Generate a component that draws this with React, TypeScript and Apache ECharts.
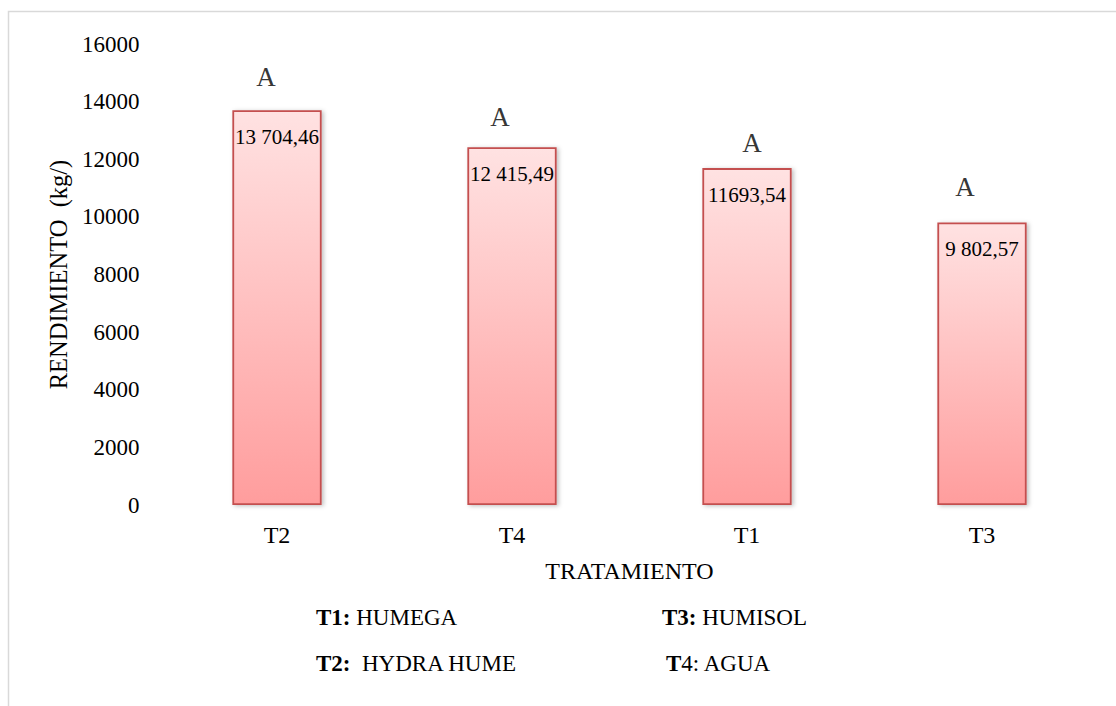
import React, { useEffect, useRef } from "react";
import * as echarts from "echarts";

const categories = ["T2", "T4", "T1", "T3"];
const values = [13704.46, 12415.49, 11693.54, 9802.57];
const valueLabels = ["13 704,46", "12 415,49", "11693,54", "9 802,57"];
const letters = ["A", "A", "A", "A"];
const letterOffsets = [[-11, -33], [-12, -30], [5, -25], [-17, -36]];
const yTicks = [0, 2000, 4000, 6000, 8000, 10000, 12000, 14000, 16000];
const legendRow1 = [
  { bold: "T1:", rest: " HUMEGA" },
  { bold: "T3:", rest: " HUMISOL" },
];
const legendRow2 = [
  { bold: "T2:", rest: "  HYDRA HUME" },
  { bold: "T", rest: "4: AGUA" },
];

const FONT = "'Liberation Serif', 'Times New Roman', serif";

export default function App() {
  const ref = useRef<HTMLDivElement>(null);
  useEffect(() => {
    if (!ref.current) return;
    const chart = echarts.init(ref.current, null, { renderer: "svg" });
    const legendText = (item: { bold: string; rest: string }, x: number, y: number) => ({
      type: "text",
      x,
      y,
      style: {
        text: `{b|${item.bold}}{n|${item.rest}}`,
        verticalAlign: "middle",
        rich: {
          b: { fontFamily: FONT, fontSize: 23, fontWeight: "bold", fill: "#000" },
          n: { fontFamily: FONT, fontSize: 23, fill: "#000" },
        },
      },
    });
    chart.setOption({
      animation: false,
      backgroundColor: "#fff",
      textStyle: { fontFamily: FONT },
      grid: { left: 159.5, right: 16.5, top: 44, bottom: 201, containLabel: false },
      xAxis: {
        type: "category",
        data: categories,
        name: "TRATAMIENTO",
        nameLocation: "middle",
        nameGap: 54,
        nameTextStyle: { fontFamily: FONT, fontSize: 24, color: "#000" },
        axisLine: { show: false },
        axisTick: { show: false },
        axisLabel: { fontFamily: FONT, fontSize: 24, color: "#000", margin: 18 },
      },
      yAxis: {
        type: "value",
        min: yTicks[0],
        max: yTicks[yTicks.length - 1],
        interval: 2000,
        name: "RENDIMIENTO  (kg/)",
        nameLocation: "middle",
        nameGap: 84,
        nameRotate: 90,
        nameTextStyle: { fontFamily: FONT, fontSize: 24.5, color: "#000" },
        axisLine: { show: false },
        axisTick: { show: false },
        splitLine: { show: false },
        axisLabel: {
          fontFamily: FONT,
          fontSize: 23,
          color: "#000",
          margin: 20,
          formatter: (v: number) => String(v),
        },
      },
      series: [
        {
          type: "bar",
          data: values,
          barWidth: "38%",
          itemStyle: {
            color: new echarts.graphic.LinearGradient(0, 0, 0, 1, [
              { offset: 0, color: "#ffe2e2" },
              { offset: 1, color: "#ff9d9d" },
            ]),
            borderColor: "#c4504f",
            borderWidth: 1.8,
            shadowColor: "rgba(0,0,0,0.25)",
            shadowBlur: 4,
            shadowOffsetX: 2,
            shadowOffsetY: 1,
          },
          label: {
            show: true,
            position: "insideTop",
            distance: 16,
            fontFamily: FONT,
            fontSize: 21,
            color: "#000",
            formatter: (p: any) => valueLabels[p.dataIndex],
          },
        },
        {
          type: "scatter",
          data: values.map((v, i) => ({
            value: [categories[i], v],
            label: { offset: letterOffsets[i] },
          })),
          symbolSize: 1,
          itemStyle: { color: "rgba(0,0,0,0)" },
          silent: true,
          label: {
            show: true,
            position: "inside",
            fontFamily: FONT,
            fontSize: 27,
            color: "#000",
            formatter: (p: any) => letters[p.dataIndex],
          },
        },
      ],
      graphic: [
        {
          type: "rect",
          z: -10,
          shape: { x: 8.5, y: 11.5, width: 1200, height: 800 },
          style: { fill: "none", stroke: "#d9d9d9", lineWidth: 1.5 },
        },
        legendText(legendRow1[0], 316, 617),
        legendText(legendRow1[1], 662, 617),
        legendText(legendRow2[0], 316, 663),
        legendText(legendRow2[1], 666, 663),
      ],
    });
    return () => chart.dispose();
  }, []);
  return (
    <div
      ref={ref}
      style={{ position: "fixed", left: 0, top: 0, width: 1116, height: 706, background: "#fff" }}
    />
  );
}
